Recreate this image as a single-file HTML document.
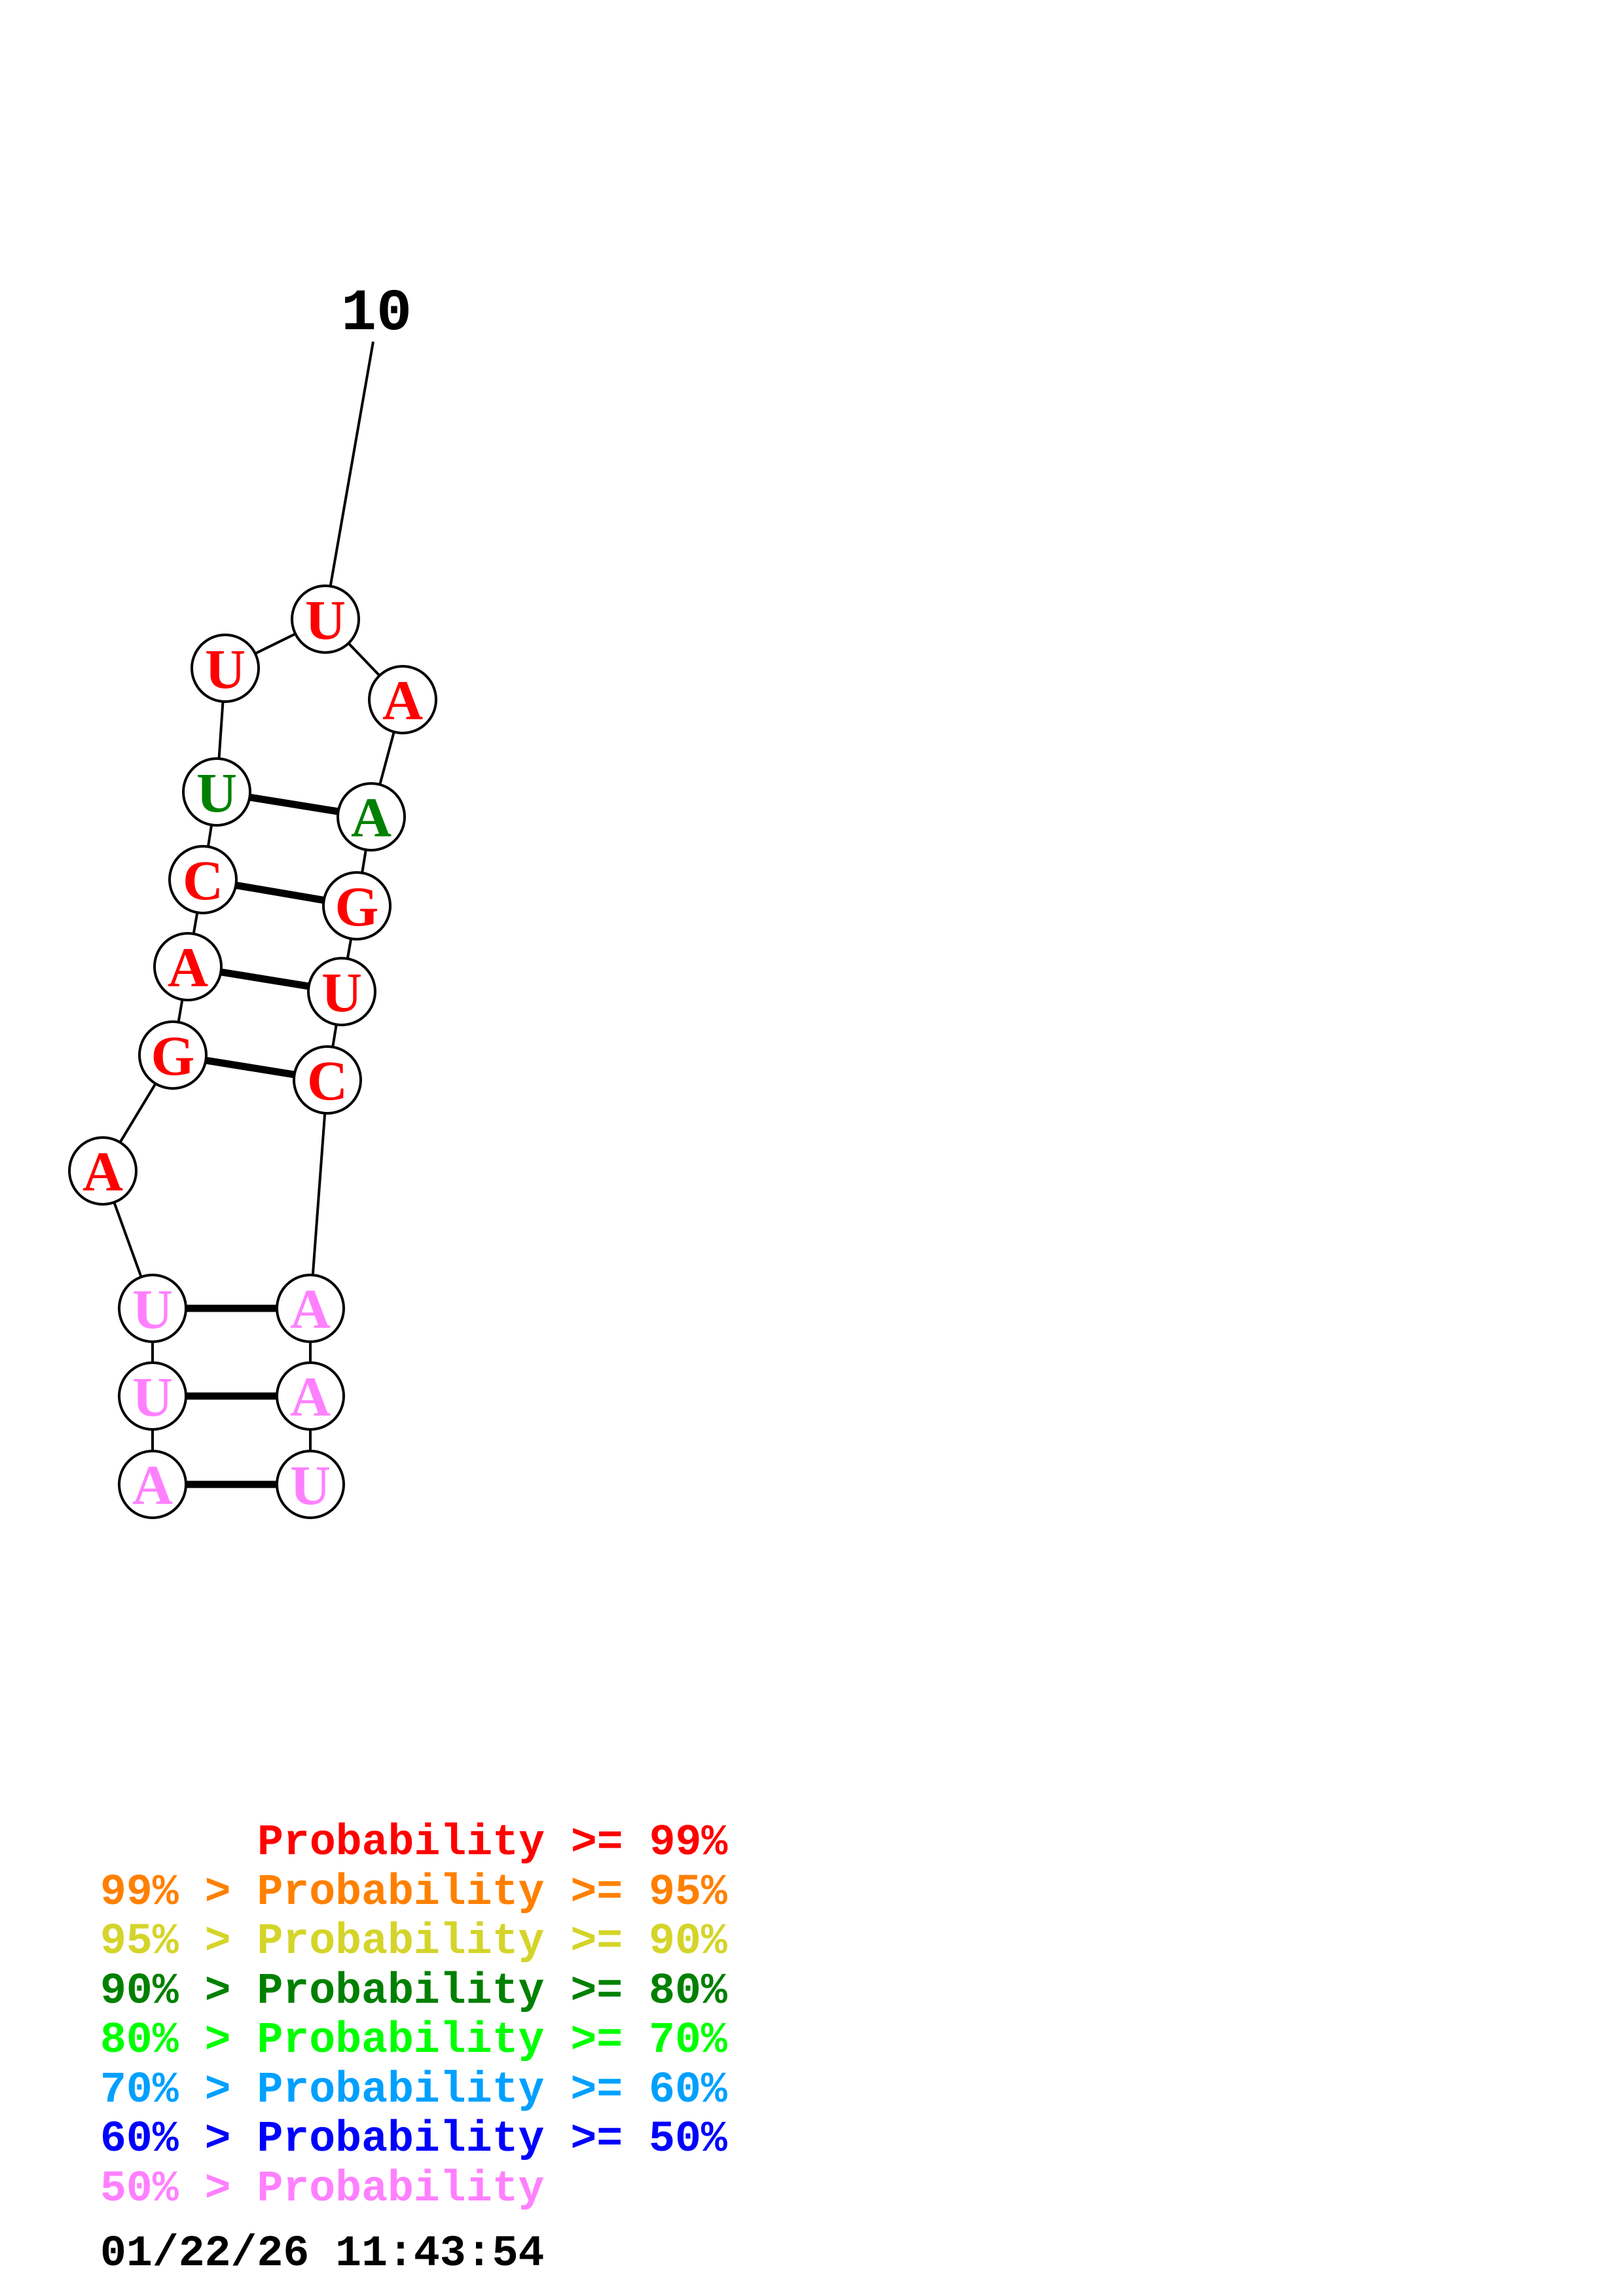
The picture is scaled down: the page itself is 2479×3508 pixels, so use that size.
<!DOCTYPE html>
<html><head><meta charset="utf-8"><style>html,body{margin:0;padding:0;background:#fff}svg{display:block}</style></head>
<body>
<svg width="2479" height="3508" viewBox="0 0 2479 3508" xmlns="http://www.w3.org/2000/svg">
<rect width="2479" height="3508" fill="#fff"/>
<g stroke="#000" stroke-width="4" fill="none">
<line x1="570" y1="522" x2="503" y2="905"/>
<polyline points="233,2268 233,2133 233,1999 157,1789 264,1612 287,1477 310,1344 331,1210 344,1021 497,946 615,1069 567,1248 545,1384 522,1515 500,1650 474,1999 474,2133 474,2268"/>
</g>
<g stroke="#000" stroke-width="11">
<line x1="331" y1="1210" x2="567" y2="1248"/>
<line x1="310" y1="1344" x2="545" y2="1384"/>
<line x1="287" y1="1477" x2="522" y2="1515"/>
<line x1="264" y1="1612" x2="500" y2="1650"/>
<line x1="233" y1="1999" x2="474" y2="1999"/>
<line x1="233" y1="2133" x2="474" y2="2133"/>
<line x1="233" y1="2268" x2="474" y2="2268"/>
</g>
<g stroke="#000" stroke-width="4" fill="#fff">
<circle cx="497" cy="946" r="51"/><circle cx="344" cy="1021" r="51"/><circle cx="615" cy="1069" r="51"/>
<circle cx="331" cy="1210" r="51"/><circle cx="567" cy="1248" r="51"/>
<circle cx="310" cy="1344" r="51"/><circle cx="545" cy="1384" r="51"/>
<circle cx="287" cy="1477" r="51"/><circle cx="522" cy="1515" r="51"/>
<circle cx="264" cy="1612" r="51"/><circle cx="500" cy="1650" r="51"/>
<circle cx="157" cy="1789" r="51"/>
<circle cx="233" cy="1999" r="51"/><circle cx="474" cy="1999" r="51"/>
<circle cx="233" cy="2133" r="51"/><circle cx="474" cy="2133" r="51"/>
<circle cx="233" cy="2268" r="51"/><circle cx="474" cy="2268" r="51"/>
</g>
<g font-family="Liberation Serif, serif" font-weight="bold" font-size="86" text-anchor="middle">
<text x="497" y="976" fill="#f00">U</text>
<text x="344" y="1051" fill="#f00">U</text>
<text x="615" y="1099" fill="#f00">A</text>
<text x="331" y="1240" fill="#008000">U</text>
<text x="567" y="1278" fill="#008000">A</text>
<text x="310" y="1374" fill="#f00">C</text>
<text x="545" y="1414" fill="#f00">G</text>
<text x="287" y="1507" fill="#f00">A</text>
<text x="522" y="1545" fill="#f00">U</text>
<text x="264" y="1642" fill="#f00">G</text>
<text x="500" y="1680" fill="#f00">C</text>
<text x="157" y="1819" fill="#f00">A</text>
<text x="233" y="2029" fill="#ff80ff">U</text>
<text x="474" y="2029" fill="#ff80ff">A</text>
<text x="233" y="2163" fill="#ff80ff">U</text>
<text x="474" y="2163" fill="#ff80ff">A</text>
<text x="233" y="2298" fill="#ff80ff">A</text>
<text x="474" y="2298" fill="#ff80ff">U</text>
</g>
<text x="575" y="503" fill="#000" font-family="Liberation Mono, monospace" font-weight="bold" font-size="90" text-anchor="middle">10</text>
<g font-family="Liberation Mono, monospace" font-weight="bold" font-size="66.5">
<text x="393" y="2833" fill="#f00">Probability &gt;= 99%</text>
<text x="153" y="2909" fill="#ff8000">99% &gt; Probability &gt;= 95%</text>
<text x="153" y="2984" fill="#d4d42a">95% &gt; Probability &gt;= 90%</text>
<text x="153" y="3060" fill="#008000">90% &gt; Probability &gt;= 80%</text>
<text x="153" y="3135" fill="#00ff00">80% &gt; Probability &gt;= 70%</text>
<text x="153" y="3211" fill="#00a0ff">70% &gt; Probability &gt;= 60%</text>
<text x="153" y="3286" fill="#0000ff">60% &gt; Probability &gt;= 50%</text>
<text x="153" y="3362" fill="#ff80ff">50% &gt; Probability</text>
<text x="153" y="3461" fill="#000">01/22/26 11:43:54</text>
</g>
</svg>
</body></html>
